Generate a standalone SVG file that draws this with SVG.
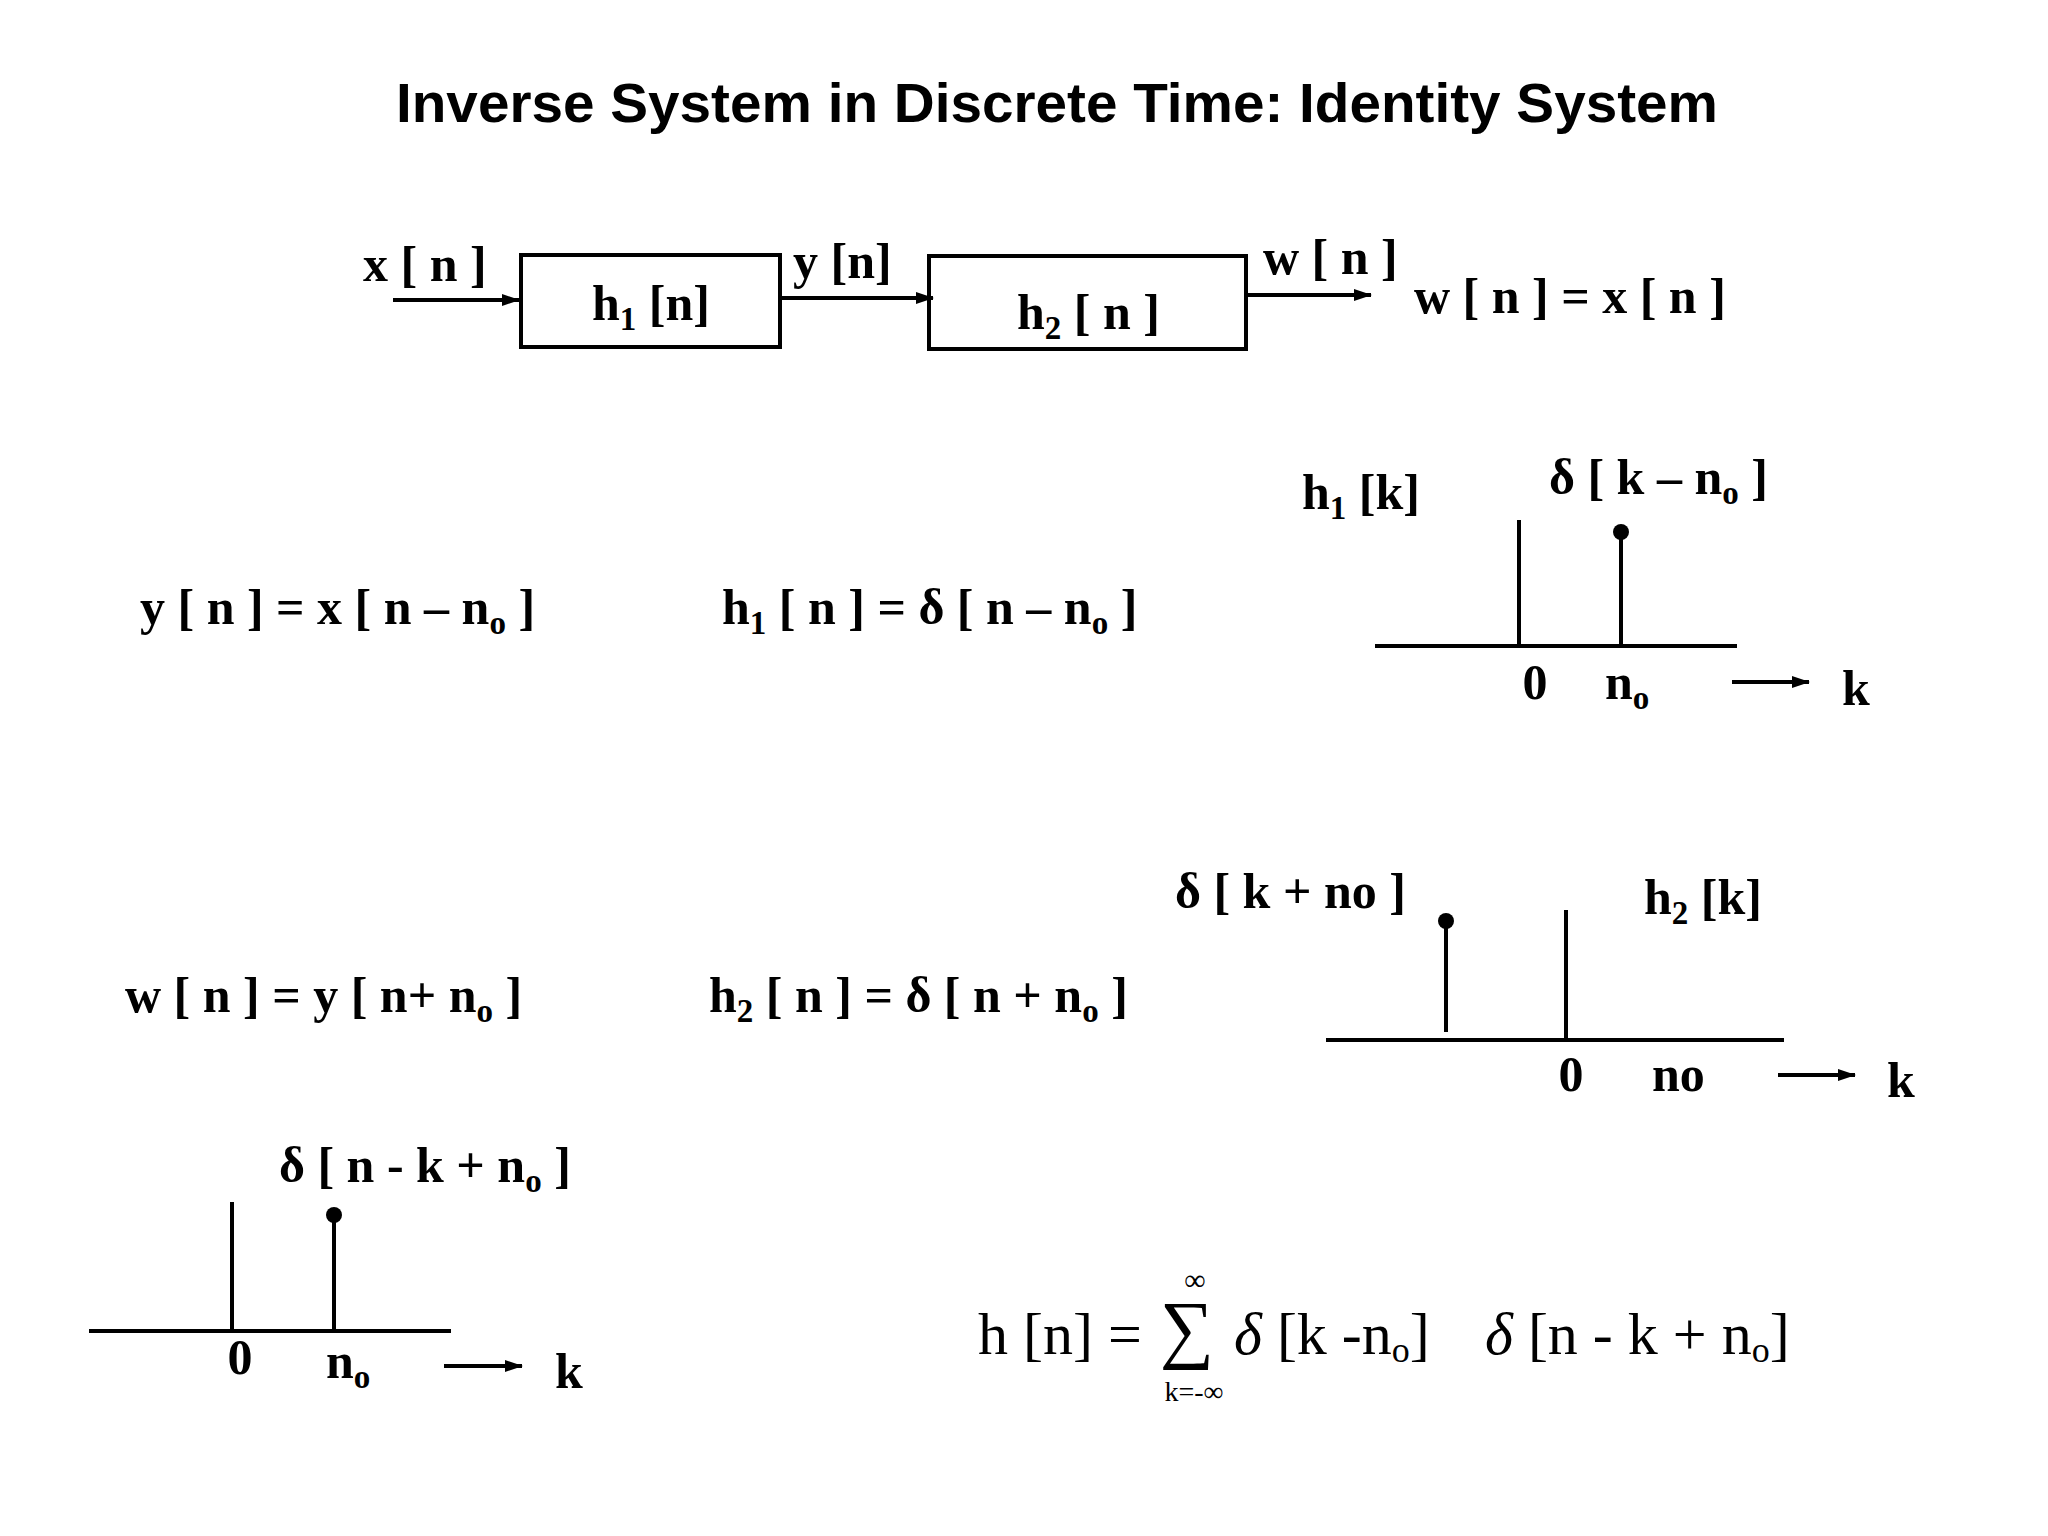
<svg xmlns="http://www.w3.org/2000/svg" width="2048" height="1536" viewBox="0 0 2048 1536">
<style>
.t{font-family:"Liberation Serif",serif;font-weight:bold;font-size:50px;fill:#000}
.s{font-size:33px}
.f{font-family:"Liberation Serif",serif;font-size:60px;fill:#000}
.i{font-style:italic}
.box{fill:none;stroke:#000;stroke-width:4}
.ln{stroke:#000;stroke-width:4;fill:none}
</style>
<defs>
<marker id="ah2" markerWidth="18" markerHeight="12" refX="17" refY="6" orient="auto" markerUnits="userSpaceOnUse"><path d="M0,0 L18,6 L0,12 Z" fill="#000"/></marker>
</defs>
<rect width="2048" height="1536" fill="#fff"/>
<text x="1057" y="122" text-anchor="middle" font-family="Liberation Sans,Arial,sans-serif" font-weight="bold" font-size="56" textLength="1322" lengthAdjust="spacingAndGlyphs">Inverse System in Discrete Time: Identity System</text>

<g id="box1"><rect class="box" x="521" y="255" width="259" height="92"/><text class="t" x="592" y="320">h<tspan class="s" dy="10">1</tspan><tspan dy="-10"> [n]</tspan></text></g>
<g id="box2"><rect class="box" x="929" y="256" width="317" height="93"/><text class="t" x="1017" y="329">h<tspan class="s" dy="10">2</tspan><tspan dy="-10"> [ n ]</tspan></text></g>
<g id="connectors">
<line class="ln" x1="393" y1="300" x2="519" y2="300" marker-end="url(#ah2)"/>
<line class="ln" x1="780" y1="298" x2="933" y2="298" marker-end="url(#ah2)"/>
<line class="ln" x1="1247" y1="295" x2="1371" y2="295" marker-end="url(#ah2)"/>
</g>
<g id="labels">
<text class="t" x="363" y="281">x [ n ]</text>
<text class="t" x="793" y="278">y [n]</text>
<text class="t" x="1263" y="274">w [ n ]</text>
<text class="t" x="1414" y="313">w [ n ] = x [ n ]</text>
<text class="t" x="140" y="624">y [ n ] = x [ n – n<tspan class="s" dy="10">o</tspan><tspan dy="-10"> ]</tspan></text>
<text class="t" x="722" y="624">h<tspan class="s" dy="10">1</tspan><tspan dy="-10"> [ n ] = δ [ n – n</tspan><tspan class="s" dy="10">o</tspan><tspan dy="-10"> ]</tspan></text>
<text class="t" x="125" y="1012">w [ n ] = y [ n+ n<tspan class="s" dy="10">o</tspan><tspan dy="-10"> ]</tspan></text>
<text class="t" x="709" y="1012">h<tspan class="s" dy="10">2</tspan><tspan dy="-10"> [ n ] = δ [ n + n</tspan><tspan class="s" dy="10">o</tspan><tspan dy="-10"> ]</tspan></text>
</g>
<g id="plot1">
<text class="t" x="1302" y="509">h<tspan class="s" dy="10">1</tspan><tspan dy="-10"> [k]</tspan></text>
<text class="t" x="1549" y="494">δ [ k – n<tspan class="s" dy="10">o</tspan><tspan dy="-10"> ]</tspan></text>
<line class="ln" x1="1375" y1="646" x2="1737" y2="646"/>
<line class="ln" x1="1519" y1="520" x2="1519" y2="646"/>
<line class="ln" x1="1621" y1="532" x2="1621" y2="646"/>
<circle cx="1621" cy="532" r="8"/>
<text class="t" x="1535" y="699" text-anchor="middle">0</text>
<text class="t" x="1605" y="699">n<tspan class="s" dy="10">o</tspan></text>
<line class="ln" x1="1732" y1="682" x2="1809" y2="682" marker-end="url(#ah2)"/>
<text class="t" x="1842" y="705">k</text>
</g>
<g id="plot2">
<text class="t" x="1175" y="908">δ [ k + no ]</text>
<text class="t" x="1644" y="914">h<tspan class="s" dy="10">2</tspan><tspan dy="-10"> [k]</tspan></text>
<line class="ln" x1="1326" y1="1040" x2="1784" y2="1040"/>
<line class="ln" x1="1566" y1="910" x2="1566" y2="1040"/>
<line class="ln" x1="1446" y1="921" x2="1446" y2="1032"/>
<circle cx="1446" cy="921" r="8"/>
<text class="t" x="1571" y="1091" text-anchor="middle">0</text>
<text class="t" x="1652" y="1091">no</text>
<line class="ln" x1="1778" y1="1075" x2="1855" y2="1075" marker-end="url(#ah2)"/>
<text class="t" x="1887" y="1097">k</text>
</g>
<g id="plot3">
<text class="t" x="279" y="1182">δ [ n - k + n<tspan class="s" dy="10">o</tspan><tspan dy="-10"> ]</tspan></text>
<line class="ln" x1="89" y1="1331" x2="451" y2="1331"/>
<line class="ln" x1="232" y1="1202" x2="232" y2="1331"/>
<line class="ln" x1="334" y1="1215" x2="334" y2="1331"/>
<circle cx="334" cy="1215" r="8"/>
<text class="t" x="240" y="1374" text-anchor="middle">0</text>
<text class="t" x="326" y="1378">n<tspan class="s" dy="10">o</tspan></text>
<line class="ln" x1="444" y1="1366" x2="522" y2="1366" marker-end="url(#ah2)"/>
<text class="t" x="555" y="1388">k</text>
</g>
<g id="formula">
<text class="f" x="978" y="1354">h [n] =</text>
<text class="f" x="1160" y="1354" style="font-size:76px">∑</text>
<text class="f" x="1195" y="1290" style="font-size:30px" text-anchor="middle">∞</text>
<text class="f" x="1194" y="1401" style="font-size:28px" text-anchor="middle">k=-∞</text>
<text class="f" x="1234" y="1354"><tspan class="i">δ</tspan> [k -n<tspan style="font-size:36px" dy="8">o</tspan><tspan dy="-8">]</tspan></text>
<text class="f" x="1485" y="1354"><tspan class="i">δ</tspan> [n - k + n<tspan style="font-size:36px" dy="8">o</tspan><tspan dy="-8">]</tspan></text>
</g>
</svg>
